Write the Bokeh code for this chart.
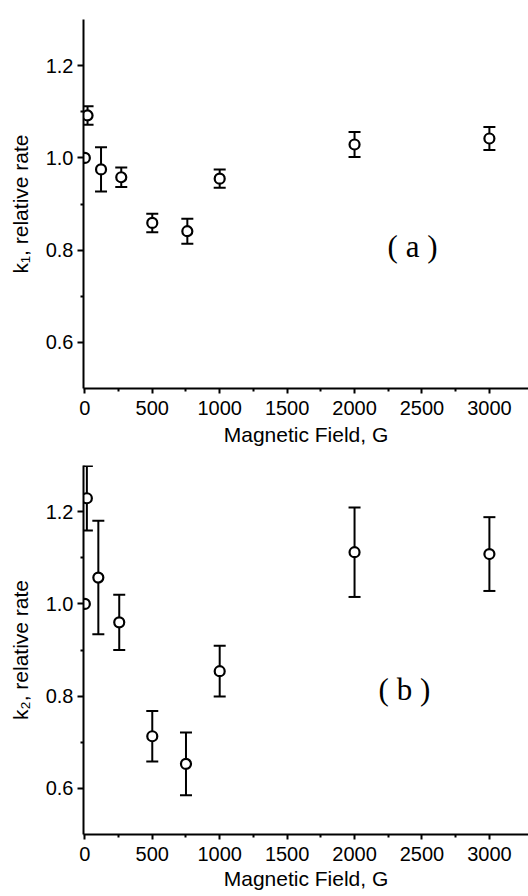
from bokeh.plotting import figure
from bokeh.models import (ColumnDataSource, Whisker, TeeHead, FixedTicker,
                          PrintfTickFormatter, Label, Range1d)
from bokeh.layouts import column
from bokeh.embed import file_html
from bokeh.resources import INLINE

# ---- data ----
field_a = [0, 20, 120, 270, 500, 760, 1000, 2000, 3000]
k1 = [1.0, 1.092, 0.975, 0.958, 0.859, 0.841, 0.955, 1.029, 1.042]
k1_err = [0.0, 0.02, 0.048, 0.021, 0.02, 0.027, 0.02, 0.027, 0.025]

field_b = [0, 15, 100, 255, 500, 750, 1000, 2000, 3000]
k2 = [1.0, 1.229, 1.057, 0.96, 0.713, 0.653, 0.854, 1.112, 1.108]
k2_err = [0.0, 0.07, 0.123, 0.06, 0.055, 0.068, 0.055, 0.097, 0.08]

x_ticks = [0, 500, 1000, 1500, 2000, 2500, 3000]
x_minor = [250, 750, 1250, 1750, 2250, 2750]
y_ticks = [0.6, 0.8, 1.0, 1.2]
y_minor = [0.7, 0.9, 1.1]

x_label = "Magnetic Field, G"
y_label_a = "k\u2081, relative rate"
y_label_b = "k\u2082, relative rate"
tag_a = "( a )"
tag_b = "( b )"

SANS = "Liberation Sans"
SERIF = "Liberation Serif"


def panel(field, k, err, ylab, tag, tag_x, tag_y, height, btop, bbottom, xlab_standoff):
    p = figure(width=528, height=height,
               x_range=Range1d(-10, 3290), y_range=Range1d(0.5, 1.3),
               output_backend="svg", toolbar_location=None,
               min_border_left=83, min_border_right=0,
               min_border_top=btop, min_border_bottom=bbottom)
    p.outline_line_color = None
    p.grid.visible = False
    p.background_fill_color = "white"
    p.border_fill_color = "white"

    # error bars (skip reference point with no error)
    idx = [i for i, e in enumerate(err) if e > 0]
    src = ColumnDataSource(dict(
        x=[field[i] for i in idx],
        upper=[k[i] + err[i] for i in idx],
        lower=[k[i] - err[i] for i in idx],
    ))
    wh = Whisker(source=src, base="x", upper="upper", lower="lower",
                 dimension="height", line_color="black", line_width=2,
                 upper_head=TeeHead(size=12, line_width=2, line_color="black"),
                 lower_head=TeeHead(size=12, line_width=2, line_color="black"),
                 level="underlay")
    p.add_layout(wh)

    p.scatter(field, k, marker="circle", size=10, fill_color="white",
              line_color="black", line_width=2.2)

    p.add_layout(Label(x=tag_x, y=tag_y, text=tag, text_font=SERIF,
                       text_font_size="31px", text_align="center",
                       text_baseline="middle", text_color="black"))

    for ax in (p.xaxis[0], p.yaxis[0]):
        ax.axis_line_width = 2
        ax.axis_line_color = "black"
        ax.major_tick_line_width = 2
        ax.minor_tick_line_width = 2
        ax.major_tick_in = 0
        ax.minor_tick_in = 0
        ax.major_label_text_font = SANS
        ax.major_label_text_font_size = "20px"
        ax.major_label_text_color = "black"
        ax.axis_label_text_font = SANS
        ax.axis_label_text_font_size = "21px"
        ax.axis_label_text_font_style = "normal"
        ax.axis_label_text_color = "black"

    xa = p.xaxis[0]
    xa.ticker = FixedTicker(ticks=x_ticks, minor_ticks=x_minor)
    xa.major_tick_out = 5
    xa.minor_tick_out = 3
    xa.major_label_standoff = 7
    xa.axis_label = x_label
    xa.axis_label_standoff = xlab_standoff

    ya = p.yaxis[0]
    ya.ticker = FixedTicker(ticks=y_ticks, minor_ticks=y_minor)
    ya.formatter = PrintfTickFormatter(format="%.1f")
    ya.major_tick_out = 6
    ya.minor_tick_out = 3
    ya.major_label_standoff = 4
    ya.axis_label = ylab
    ya.axis_label_standoff = 11
    return p


p1 = panel(field_a, k1, k1_err, y_label_a, tag_a, 2430, 0.808,
           height=455, btop=19, bbottom=67, xlab_standoff=5)
p2 = panel(field_b, k2, k2_err, y_label_b, tag_b, 2370, 0.814,
           height=441, btop=10, bbottom=62, xlab_standoff=3)

layout = column(p1, p2, spacing=0)
open("out.html", "w").write(file_html(layout, INLINE))
